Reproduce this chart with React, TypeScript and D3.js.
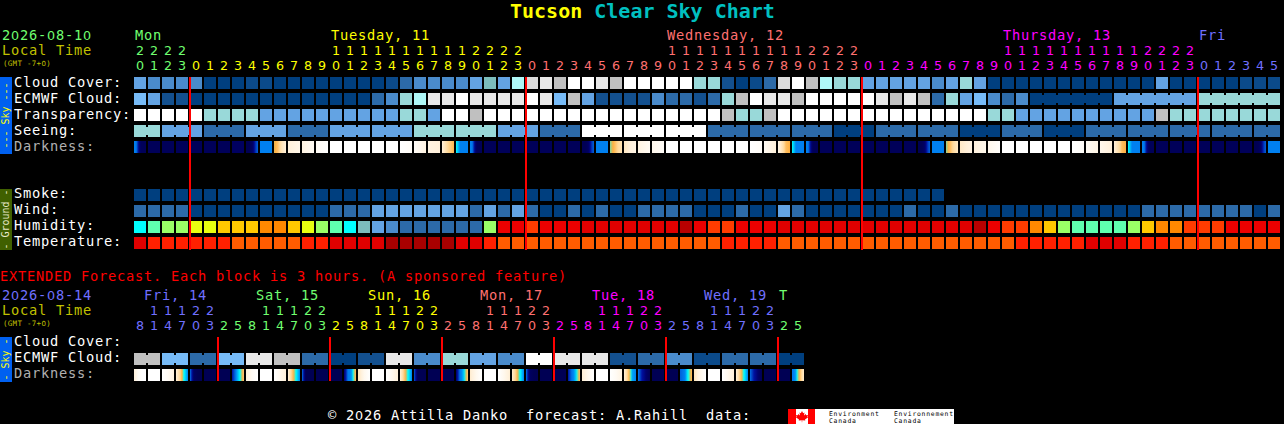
import React from 'react';
import * as d3 from 'd3';

// sky palette levels: 0 = clear/dark blue ... 13 = overcast/white
const cloudCover = [
  5, 4, 4, 4, 4, 0, 0, 0, 1, 1, 0, 0, 0, 0, 0, 0, 0, 0, 1, 3, 4,
  4, 4, 4, 5, 7, 5, 9, 11, 12, 10, 13, 13, 12, 10, 13, 13, 13, 13, 13, 8, 8, 2, 0, 1, 3, 11, 13, 10, 9, 8, 8,
  5, 5, 5, 5, 5, 4, 5, 8, 5, 0, 0, 0, 0, 0, 0, 0, 0, 0, 0, 0, 0, 5, 0, 0, 0, 0, 0, 1, 1, 1,
];
const ecmwfCloud = [
  6, 5, 2, 2, 0, 0, 0, 0, 0, 0, 0, 0, 0, 0, 0, 0, 0, 3, 4, 8, 9,
  12, 12, 13, 12, 12, 12, 12, 13, 12, 6, 10, 5, 2, 2, 2, 2, 4, 3, 3, 2, 3, 8, 10, 13, 12, 12, 10, 13, 13, 13, 13,
  13, 12, 10, 12, 10, 3, 8, 5, 6, 4, 3, 4, 0, 0, 0, 0, 0, 0, 5, 5, 5, 5, 5, 5, 8, 8, 8, 8, 8, 8,
];
const transparency = [
  13, 13, 13, 13, 13, 8, 8, 8, 8, 5, 5, 5, 5, 5, 5, 5, 5, 5, 5, 8, 8,
  5, 13, 13, 10, 13, 13, 13, 13, 13, 13, 13, 13, 13, 13, 13, 13, 13, 13, 13, 13, 13, 10, 8, 8, 10, 13, 13, 13, 13, 13, 13,
  13, 13, 13, 13, 13, 13, 13, 13, 13, 8, 8, 5, 5, 5, 5, 5, 5, 5, 5, 5, 5, 10, 8, 8, 8, 8, 8, 8, 8, 8,
];
const seeing = [
  8, 8, 5, 5, 5, 3, 3, 3, 5, 5, 5, 3, 3, 3, 5, 5, 5, 5, 5, 5, 8,
  8, 8, 8, 8, 8, 5, 5, 5, 3, 3, 3, 13, 13, 13, 13, 13, 13, 13, 13, 13, 3, 3, 3, 3, 3, 3, 3, 3, 3, 0, 0,
  0, 3, 3, 3, 3, 3, 3, 0, 0, 0, 3, 3, 3, 0, 0, 0, 3, 3, 3, 3, 3, 3, 3, 3, 3, 3, 3, 3, 3, 3,
];
const seeingSpans = [2, 3, 3, 3, 3, 3, 3, 3, 3, 3, 3, 3, 3, 3, 3, 3, 3, 3, 3, 3, 3, 3, 3, 3, 3, 3, 3, 2];
const ecmwfSpans = [64, 6, 6, 6]; // first entry is the hourly part, not joined
const smoke = [
  0, 0, 0, 0, 0, 0, 0, 0, 0, 0, 0, 0, 0, 0, 0, 0, 0, 0, 0, 0, 0,
  0, 0, 0, 0, 0, 0, 0, 0, 0, 0, 0, 0, 0, 0, 0, 0, 0, 0, 0, 0, 0, 0, 0, 0, 0, 0, 0, 0, 0, 0, 0,
  0, 0, 0, 0, 0, 0,
];
const wind = [
  3, 3, 3, 3, 0, 0, 0, 0, 0, 0, 0, 0, 0, 0, 3, 3, 3, 5, 5, 5, 5,
  5, 5, 5, 3, 5, 3, 5, 3, 0, 0, 3, 0, 3, 0, 0, 3, 3, 3, 3, 0, 0, 0, 3, 0, 0, 5, 3, 0, 0, 0, 0,
  0, 0, 0, 3, 0, 0, 3, 0, 0, 0, 0, 0, 0, 0, 0, 0, 0, 0, 0, 0, 3, 3, 3, 3, 3, 3, 3, 3, 0, 3,
];
// percent
const humidity = [
  67, 62, 57, 57, 52, 52, 47, 47, 47, 42, 42, 47, 52, 57, 62, 67, 72, 77, 82, 87, 87,
  87, 87, 87, 87, 57, 32, 32, 37, 32, 32, 32, 27, 27, 27, 27, 27, 27, 27, 22, 32, 37, 37, 32, 32, 32, 27, 27, 27, 27, 27, 27,
  27, 27, 27, 27, 27, 27, 27, 27, 22, 32, 37, 37, 42, 47, 57, 62, 62, 62, 62, 57, 47, 42, 42, 37, 37, 37, 32, 32, 32, 32,
];
// deg C
const temperature = [
  32, 28, 28, 28, 28, 28, 28, 24, 24, 24, 24, 24, 28, 28, 32, 32, 32, 32, 36, 36, 36,
  36, 36, 32, 32, 28, 24, 24, 24, 24, 24, 24, 24, 24, 24, 24, 24, 24, 24, 24, 24, 24, 28, 28, 28, 28, 24, 24, 24, 24, 24, 24,
  24, 24, 24, 24, 24, 24, 24, 24, 24, 24, 24, 28, 28, 28, 28, 28, 32, 32, 32, 28, 28, 28, 24, 24, 24, 24, 24, 24, 24, 24,
];
// sun level across each block, left to right: 0 = daylight, 3.5 = twilight, 7 = full dark
const darkness = [
  [3.5, 3.6, 5.5, 6.8, 6.8, 6.8], [6.8], [6.8], [6.8], [6.8], [6.8], [6.8], [6.5], [7, 7, 6.8, 6, 4.5, 4], [3.5], [2.7, 2.3, 1.5, 1], [1, 0.6], [0.8, 0.3], [0.3, 0], [0], [0], [0], [0], [0], [0, 0.2], [0.2, 0.8],
  [0.8, 1], [1, 2, 2.5], [3.2, 3.5, 3.5, 3.5], [3.5, 3.6, 5.5, 6.8, 6.8, 6.8], [6.8], [6.8], [6.8], [6.8], [6.8], [6.8], [6.8], [7, 7, 6.8, 6, 4.5, 4], [3.5], [2.9, 2.5, 2, 1.6], [1.4, 1, 0.7], [0.8, 0.3], [0.5, 0.2], [0], [0], [0], [0], [0], [0], [0, 0.2], [0.3, 1], [0.7, 1.5, 2.4, 2.6], [3.2, 3.5, 3.5, 3.5], [3.5, 3.6, 5.5, 6.8, 6.8, 6.8], [6.8], [6.8], [6.8],
  [6.8], [6.8], [6.8], [6.8], [7, 7, 6.8, 6, 4.5, 4], [3.5], [2.9, 2.4, 1.8, 1.3], [1.3, 0.8], [0.9, 0.5], [0.5, 0.1], [0], [0], [0], [0], [0], [0, 0.2], [0.3, 0.7], [0.5, 1], [1, 1.6, 2.4, 2.6], [3.2, 3.5, 3.5, 3.5], [3.5, 3.6, 5.5, 6.8, 6.8, 6.8], [6.8], [6.8], [6.8], [6.8], [6.8], [6.8], [6.8], [7, 7, 6.8, 6, 4.5, 4], [3.5],
];
const hours = [
  20, 21, 22, 23, 0, 1, 2, 3, 4, 5, 6, 7, 8, 9, 10, 11, 12, 13, 14, 15, 16, 17, 18, 19, 20, 21, 22, 23,
  0, 1, 2, 3, 4, 5, 6, 7, 8, 9, 10, 11, 12, 13, 14, 15, 16, 17, 18, 19, 20, 21, 22, 23,
  0, 1, 2, 3, 4, 5, 6, 7, 8, 9, 10, 11, 12, 13, 14, 15, 16, 17, 18, 19, 20, 21, 22, 23,
  0, 1, 2, 3, 4, 5,
];
const days = ['Mon', 'Tuesday, 11', 'Wednesday, 12', 'Thursday, 13', 'Fri'];
const dayFirstBlock = [0, 4, 28, 52, 76];
const dayLabelBlock = [0, 14, 38, 62, 76];
const dayColors = ['#70ff70', '#ffff00', '#ff7070', '#ff00ff', '#7070ff'];

const extEcmwf = [10, 6, 3, 6, 12, 10, 3, 0, 2, 12, 4, 8, 5, 4, 13, 12, 12, 2, 3, 4, 1, 3, 3, 0];
const extDarkness = [
  [1, 0.3, 0, 0], [0], [0, 0.3, 0.8], [1, 2, 3.2, 3.5], [3.7, 6.5, 7, 7], [7], [7], [5, 3.5, 3.2, 2.2],
  [1, 0.3, 0], [0], [0, 0.5, 1], [1, 2.2, 3.2, 3.5], [3.7, 7, 7, 7], [7], [7], [6, 3.6, 3.4, 2.4],
  [1.5, 0.5, 0], [0], [0, 0.4, 1], [1, 2.2, 3.2, 3.5], [4, 7, 7, 7], [7], [7], [6, 3.6, 3.3, 2.2],
  [1.2, 0.5, 0], [0], [0, 0.5, 1.1], [1.2, 2.2, 3.2, 3.5], [3.6, 6.5, 7, 7], [7], [7], [5, 3.6, 3.3, 2.4],
  [1.1, 0.5, 0], [0], [0, 0.3, 0.8], [1, 2.2, 3.4, 3.5], [3.6, 5, 6, 7], [7], [7], [4, 3.6, 3.2, 2.4],
  [1.5, 0.6, 0], [0], [0, 0.5, 1], [1, 2.2, 3.2, 3.5], [3.8, 5, 6, 7], [7], [7], [3.6, 3.4, 2.4, 1.2],
];
const extHours = [
  8, 11, 14, 17, 20, 23, 2, 5, 8, 11, 14, 17, 20, 23, 2, 5, 8, 11, 14, 17, 20, 23, 2, 5,
  8, 11, 14, 17, 20, 23, 2, 5, 8, 11, 14, 17, 20, 23, 2, 5, 8, 11, 14, 17, 20, 23, 2, 5,
];
const extDays = ['Fri, 14', 'Sat, 15', 'Sun, 16', 'Mon, 17', 'Tue, 18', 'Wed, 19', 'T'];
const extDayFirstBlock = [0, 6, 14, 22, 30, 38, 46];
const extDayLabelBlock = [1, 9, 17, 25, 33, 41, 46];
const extDayColors = ['#7070ff', '#70ff70', '#ffff00', '#ff7070', '#ff00ff', '#7070ff', '#70ff70'];

const skyPalette = [
  '#003f7f', '#0b4a8a', '#13508f', '#2c6aa8', '#4a8bcb', '#63a3e3', '#77bbf7',
  '#7cbdbd', '#99d9d9', '#aff8f8', '#c0c0c0', '#dcdcdc', '#e8e8e8', '#ffffff',
];
const humidityScale = d3.scaleThreshold<number, string>()
  .domain([25, 30, 35, 40, 45, 50, 55, 60, 65, 70, 75, 80, 85])
  .range(['#b80000', '#e00000', '#ec0000', '#ff3c00', '#ff8800', '#ffc800', '#e8ff10', '#9aff66', '#5fffaf', '#00ffff', '#7cbdbd', '#63a3e3', '#4a8bcb', '#2c6aa8']);
const temperatureScale = d3.scaleThreshold<number, string>()
  .domain([26, 30, 34])
  .range(['#ff5c00', '#ff2000', '#e00000', '#a80000']);
const darknessScale = d3.scaleLinear<string>()
  .domain([0, 1, 2, 2.6, 3.2, 3.5, 4, 5, 6, 7])
  .range(['#ffffff', '#fff0da', '#ffd898', '#ffb040', '#00ffff', '#0080f0', '#0060d8', '#0010a0', '#00006c', '#000054'])
  .clamp(true);

const LETTERS = '"DejaVu Sans Mono", monospace';
const DIGITS = '"DejaVu Sans", sans-serif';

// one character every `step` px; zeros use a plain-oval font
function Grid({ x, y, text, fill, size = 13.7, step = 9 }: any) {
  const xs = Array.from(text as string).map((_, i) => x + i * step);
  return (
    <text x={xs.join(' ')} y={y} fill={fill} fontSize={size} fontFamily={LETTERS} style={{ whiteSpace: 'pre' }}>
      {Array.from(text as string).map((c, i) => (c === '0' ? <tspan key={i} fontFamily={DIGITS} fontSize={size * 0.93}>0</tspan> : c))}
    </text>
  );
}

function Blocks({ values, color, x, y, h, spans }: any) {
  const joins: number[] = [];
  if (spans) {
    let start = 0;
    spans.forEach((n: number, k: number) => {
      if (!(spans === ecmwfSpans && k === 0)) d3.range(start, start + n - 1).forEach(i => joins.push(i));
      start += n;
    });
  }
  return (
    <g>
      {values.map((v: number, i: number) => (
        <rect key={i} x={x(i)} y={y} width={x.bandwidth()} height={h} fill={color(v)} />
      ))}
      {joins.map(i => (
        <rect key={'j' + i} x={x(i)! + x.bandwidth()} y={y + 2} width={x.step() - x.bandwidth()} height={h - 4} fill={color(values[i])} />
      ))}
    </g>
  );
}

function DarkBlocks({ values, x, y, h, id }: any) {
  return (
    <g>
      <defs>
        {values.map((stops: number[], i: number) => {
          const lvl = d3.scaleLinear().domain(stops.length > 1 ? d3.range(stops.length).map(k => k / (stops.length - 1)) : [0, 1]).range(stops.length > 1 ? stops : [stops[0], stops[0]]);
          return (
            <linearGradient key={i} id={`${id}${i}`}>
              {d3.range(13).map(k => (
                <stop key={k} offset={k / 12} stopColor={darknessScale(lvl(k / 12))} />
              ))}
            </linearGradient>
          );
        })}
      </defs>
      {values.map((_: number[], i: number) => (
        <rect key={i} x={x(i)} y={y} width={x.bandwidth()} height={h} fill={`url(#${id}${i})`} />
      ))}
    </g>
  );
}

function SideBar({ y0, y1, fill, color, label }: any) {
  const mid = (y0 + y1) / 2;
  return (
    <g>
      <rect x={0} y={y0} width={12} height={y1 - y0} fill={fill} />
      <text transform={`translate(9,${mid}) rotate(-90)`} textAnchor="middle" fontSize={10} fontFamily={LETTERS} fill={color} style={{ whiteSpace: 'pre' }}>{label}</text>
    </g>
  );
}

function HourLabels({ list, x, colorOf, yTens, yUnits }: any) {
  return (
    <g fontFamily={DIGITS} fontSize={12.7} textAnchor="middle">
      {list.map((h: number, i: number) => (
        <g key={i} fill={colorOf(i)}>
          {h >= 10 && <text x={x(i)! + 6} y={yTens}>{Math.floor(h / 10)}</text>}
          <text x={x(i)! + 6} y={yUnits}>{h % 10}</text>
        </g>
      ))}
    </g>
  );
}

export default function App() {
  const x = d3.scaleBand<number>().domain(d3.range(hours.length)).range([134, 1280]).paddingInner(2 / 14);
  const xExt = d3.scaleBand<number>().domain(d3.range(extHours.length)).range([134, 804]).paddingInner(2 / 14);
  const skyRows = ['Cloud Cover:', 'ECMWF Cloud:', 'Transparency:', 'Seeing:', 'Darkness:'];
  const groundRows = ['Smoke:', 'Wind:', 'Humidity:', 'Temperature:'];
  const extRows = ['Cloud Cover:', 'ECMWF Cloud:', 'Darkness:'];
  const ySky = d3.scaleBand<string>().domain(skyRows).range([77, 153]).paddingInner(0.25);
  const yGround = d3.scaleBand<string>().domain(groundRows).range([189, 249]).paddingInner(0.25);
  const yExt = d3.scaleBand<string>().domain(extRows).range([337, 381]).paddingInner(0.25);
  const h = ySky.bandwidth();
  const sky = (v: number) => skyPalette[v];
  const dayIndex = (first: number[], i: number) => d3.bisectRight(first, i) - 1;
  const midnight = hours.flatMap((v, i) => (v === 0 ? [i] : []));
  const extMidnight = extHours.flatMap((v, i) => (i > 0 && v < extHours[i - 1] ? [i] : []));

  return (
    <svg width={1284} height={424} style={{ position: 'absolute', left: 0, top: 0, background: '#000' }}>
      <text x={510} y={18} fontSize={20} fontWeight="bold" fontFamily={LETTERS} style={{ whiteSpace: 'pre' }}>
        <tspan fill="#ffff00">Tucson</tspan><tspan fill="#00c0c0"> Clear Sky Chart</tspan>
      </text>

      <Grid x={2} y={40} text="2026-08-10" fill="#70ff70" />
      <Grid x={2} y={55} text="Local Time" fill="#c0c000" />
      <Grid x={3} y={65.5} text="(GMT -7+0)" fill="#c0c000" size={7.5} step={4.8} />
      {days.map((d, k) => (
        <Grid key={d} x={x(dayLabelBlock[k])! + 1} y={40} text={d} fill={dayColors[k]} />
      ))}
      <HourLabels list={hours} x={x} colorOf={(i: number) => dayColors[dayIndex(dayFirstBlock, i)]} yTens={55} yUnits={70} />

      <SideBar y0={77} y1={154} fill="#0060f0" color="#ffff00" label="--- Sky ---" />
      <SideBar y0={189} y1={250} fill="#406000" color="#e8e8c8" label="- Ground -" />
      {skyRows.map((r, k) => (
        <Grid key={r} x={14} y={ySky(r)! + 10} text={r} fill={k === 4 ? '#b0b0b0' : '#ffffff'} />
      ))}
      {groundRows.map(r => (
        <Grid key={r} x={14} y={yGround(r)! + 9} text={r} fill="#ffffff" />
      ))}

      <Blocks values={cloudCover} color={sky} x={x} y={ySky('Cloud Cover:')} h={h} />
      <Blocks values={ecmwfCloud} color={sky} x={x} y={ySky('ECMWF Cloud:')} h={h} spans={ecmwfSpans} />
      <Blocks values={transparency} color={sky} x={x} y={ySky('Transparency:')} h={h} />
      <Blocks values={seeing} color={sky} x={x} y={ySky('Seeing:')} h={h} spans={seeingSpans} />
      <DarkBlocks values={darkness} x={x} y={ySky('Darkness:')} h={h} id="dk" />
      <Blocks values={smoke} color={sky} x={x} y={yGround('Smoke:')} h={h} />
      <Blocks values={wind} color={sky} x={x} y={yGround('Wind:')} h={h} />
      <Blocks values={humidity} color={humidityScale} x={x} y={yGround('Humidity:')} h={h} />
      <Blocks values={temperature} color={temperatureScale} x={x} y={yGround('Temperature:')} h={h} />

      {midnight.map(i => (
        <rect key={i} x={x(i)! - 1} y={77} width={2} height={173} fill="#ff0000" />
      ))}

      <Grid x={0} y={281} text="EXTENDED Forecast. Each block is 3 hours. (A sponsored feature)" fill="#ff0000" />
      <Grid x={2} y={300} text="2026-08-14" fill="#7070ff" />
      <Grid x={2} y={315} text="Local Time" fill="#c0c000" />
      <Grid x={3} y={325.5} text="(GMT -7+0)" fill="#c0c000" size={7.5} step={4.8} />
      {extDays.map((d, k) => (
        <Grid key={d} x={k === 6 ? xExt(extDayLabelBlock[k])! + 1 : xExt(extDayLabelBlock[k])! - 4} y={300} text={d} fill={extDayColors[k]} />
      ))}
      <HourLabels list={extHours} x={xExt} colorOf={(i: number) => extDayColors[dayIndex(extDayFirstBlock, i)]} yTens={315} yUnits={330} />

      <SideBar y0={337} y1={382} fill="#0060f0" color="#ffff00" label="- Sky -" />
      {extRows.map((r, k) => (
        <Grid key={r} x={14} y={yExt(r)! + 9} text={r} fill={k === 2 ? '#b0b0b0' : '#ffffff'} />
      ))}
      <Blocks values={extEcmwf.flatMap(v => [v, v])} color={sky} x={xExt} y={yExt('ECMWF Cloud:')} h={h} spans={d3.range(24).map(() => 2)} />
      <DarkBlocks values={extDarkness} x={xExt} y={yExt('Darkness:')} h={h} id="xd" />
      {extMidnight.map(i => (
        <rect key={i} x={xExt(i)! - 1} y={337} width={2} height={44} fill="#ff0000" />
      ))}

      <Grid x={328} y={420} text="© 2026 Attilla Danko  forecast: A.Rahill  data:" fill="#ffffff" />

      {/* Environment Canada logo */}
      <rect x={788} y={409} width={166} height={15} fill="#ffffff" />
      <rect x={788} y={409} width={8} height={15} fill="#ff0000" />
      <rect x={808} y={409} width={7} height={15} fill="#ff0000" />
      <path d="M802 411 l1.2 2.2 1.3 -0.6 -0.5 2.8 1.8 -1.4 0.4 1.2 1.8 -0.3 -0.6 1.9 0.8 0.4 -3.2 2.4 0.3 1 -3.1 -0.4 0 2 -0.4 0 0 -2 -3.1 0.4 0.3 -1 -3.2 -2.4 0.8 -0.4 -0.6 -1.9 1.8 0.3 0.4 -1.2 1.8 1.4 -0.5 -2.8 1.3 0.6 z" fill="#ff0000" />
      <Grid x={829} y={415.5} text="Environment" fill="#000000" size={6.4} step={4.6} />
      <Grid x={829} y={423} text="Canada" fill="#000000" size={6.4} step={4.6} />
      <Grid x={894} y={415.5} text="Environnement" fill="#000000" size={6.4} step={4.6} />
      <Grid x={894} y={423} text="Canada" fill="#000000" size={6.4} step={4.6} />
    </svg>
  );
}
